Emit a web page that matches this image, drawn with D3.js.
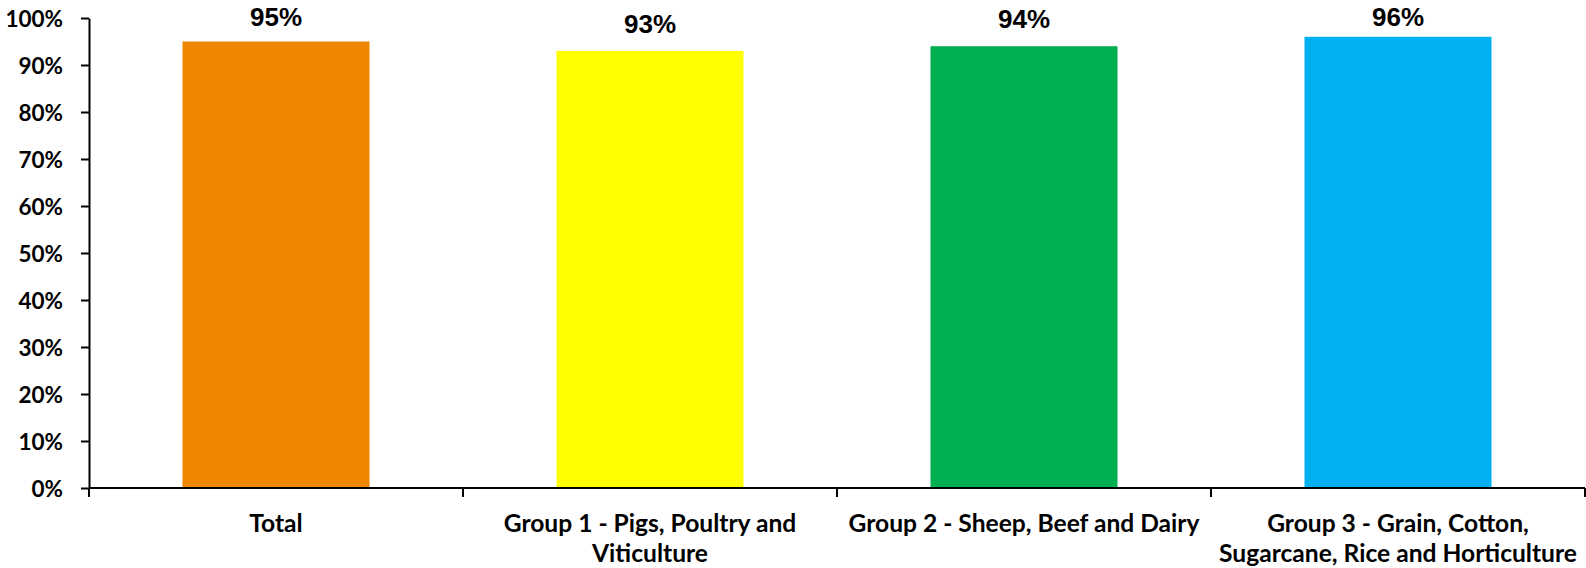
<!DOCTYPE html>
<html>
<head>
<meta charset="utf-8">
<script src="https://cdn.jsdelivr.net/npm/d3@7"></script>
<style>
  html, body { margin: 0; padding: 0; background: #fff; }
  svg { display: block; }
</style>
</head>
<body>
<svg id="chart" width="1586" height="568"></svg>
<script>
// Share of respondents by farm group
const categories = [
  "Total",
  "Group 1 - Pigs, Poultry and\nViticulture",
  "Group 2 - Sheep, Beef and Dairy",
  "Group 3 - Grain, Cotton,\nSugarcane, Rice and Horticulture"
];
const values = [0.95, 0.93, 0.94, 0.96];
const valueLabels = ["95%", "93%", "94%", "96%"];
const colors = ["#EE8600", "#FFFF00", "#00B050", "#00B0F0"];
const yTicks = [0, 0.1, 0.2, 0.3, 0.4, 0.5, 0.6, 0.7, 0.8, 0.9, 1.0];

const svg = d3.select("#chart");
const margin = { left: 89, right: 1, top: 18, bottom: 80 };
const W = 1586, H = 568;
const x0 = margin.left, x1 = W - margin.right;
const y0 = 488, y1 = margin.top;

const x = d3.scaleBand().domain(categories).range([x0, x1]).paddingInner(0.5).paddingOuter(0.25);
const y = d3.scaleLinear().domain([0, 1]).range([y0, y1]);
const edge = d3.scaleLinear().domain([0, categories.length]).range([x0, x1]);

// bars
svg.append("g").selectAll("rect")
  .data(categories)
  .join("rect")
  .attr("x", d => x(d))
  .attr("width", x.bandwidth())
  .attr("y", (d, i) => y(values[i]))
  .attr("height", (d, i) => y(0) - y(values[i]))
  .attr("fill", (d, i) => colors[i]);

// value labels, kept inside the top of the chart area
svg.append("g").selectAll("text")
  .data(categories)
  .join("text")
  .attr("x", d => x(d) + x.bandwidth() / 2)
  .attr("y", (d, i) => Math.max(y(values[i]) - 18, 26))
  .attr("text-anchor", "middle")
  .attr("font-family", "'Liberation Sans', Arial, sans-serif")
  .attr("font-weight", "bold")
  .attr("font-size", 26)
  .attr("fill", "#000")
  .text((d, i) => valueLabels[i]);

// y axis
const yAxis = d3.axisLeft(y)
  .tickValues(yTicks)
  .tickFormat(d3.format(".0%"))
  .tickSize(8)
  .tickSizeOuter(0)
  .tickPadding(18);
const gy = svg.append("g").attr("transform", `translate(${x0},0)`).call(yAxis);
gy.select(".domain").attr("stroke", "#000").attr("stroke-width", 2);
gy.selectAll(".tick line").attr("stroke", "#000").attr("stroke-width", 2);
gy.selectAll(".tick text")
  .attr("font-family", "Lato, 'Open Sans', sans-serif")
  .attr("font-weight", "bold")
  .attr("font-size", 22.5)
  .attr("fill", "#000")
  .attr("dy", "0.36em");

// x axis line and category boundary ticks
const gx = svg.append("g");
gx.append("line")
  .attr("x1", x0).attr("x2", x1)
  .attr("y1", y(0)).attr("y2", y(0))
  .attr("stroke", "#000").attr("stroke-width", 2);
gx.selectAll("line.edge")
  .data(d3.range(categories.length + 1))
  .join("line")
  .attr("class", "edge")
  .attr("x1", i => edge(i)).attr("x2", i => edge(i))
  .attr("y1", y(0)).attr("y2", y(0) + 9)
  .attr("stroke", "#000").attr("stroke-width", 2);

// category labels
const labels = gx.selectAll("text.cat")
  .data(categories)
  .join("text")
  .attr("class", "cat")
  .attr("x", d => x(d) + x.bandwidth() / 2)
  .attr("y", 532)
  .attr("text-anchor", "middle")
  .attr("font-family", "Lato, 'Open Sans', sans-serif")
  .attr("font-weight", "bold")
  .attr("font-size", 24.6)
  .attr("fill", "#000");
labels.each(function (d) {
  const t = d3.select(this);
  d.split("\n").forEach((line, k) => {
    t.append("tspan")
      .attr("x", x(d) + x.bandwidth() / 2)
      .attr("dy", k === 0 ? 0 : 30)
      .text(line);
  });
});
</script>
</body>
</html>
